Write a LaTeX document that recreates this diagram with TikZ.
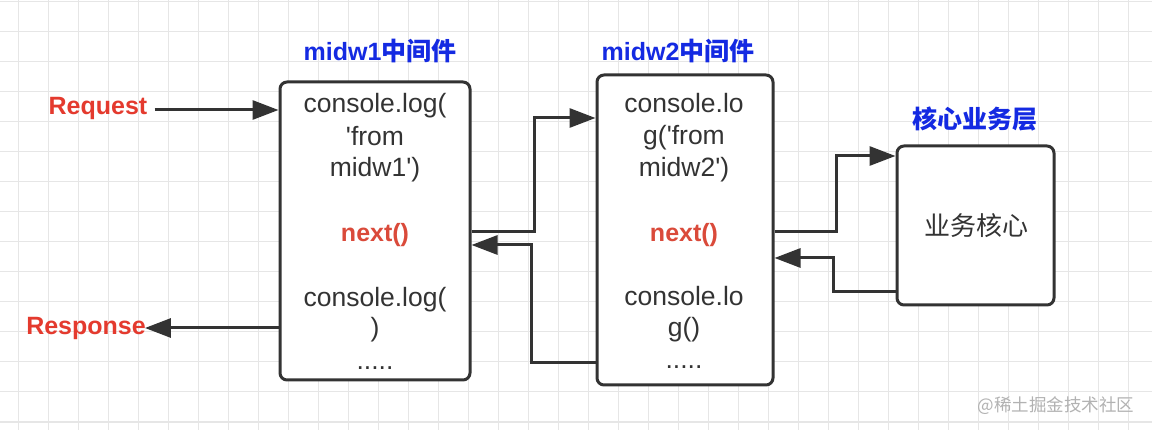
\documentclass[tikz,border=0pt]{standalone}
\usepackage{fontspec}
\setmainfont{Liberation Sans}
\newfontfamily\cjk{Noto Sans CJK SC}
\usetikzlibrary{arrows.meta}
\definecolor{ink}{RGB}{51,51,51}
\definecolor{tblue}{RGB}{20,42,226}
\definecolor{tred}{RGB}{228,58,46}
\definecolor{nred}{RGB}{218,74,58}
\definecolor{gridc}{RGB}{230,230,230}
\definecolor{wm}{RGB}{178,178,178}
\newcommand{\sq}{\textquotesingle}
\tikzset{
  box/.style={draw=ink, line width=3pt, rounded corners=7pt, fill=white, inner sep=0pt},
  conn/.style={draw=ink, line width=3pt, -{Triangle[length=26pt,width=19pt]}},
  code/.style={anchor=base, inner sep=0pt, text=ink, font=\fontsize{26.5}{30}\selectfont},
  nxt/.style={anchor=base, inner sep=0pt, text=nred, font=\fontsize{25}{30}\selectfont\bfseries},
  lbl/.style={anchor=base, inner sep=0pt, text=tred, font=\fontsize{25}{30}\selectfont\bfseries},
  ttl/.style={anchor=base, inner sep=0pt, text=tblue, font=\fontsize{25}{30}\selectfont\bfseries},
}
\begin{document}
\begin{tikzpicture}[x=1pt,y=-1pt]
\useasboundingbox (0,0) rectangle (1152,430);
\fill[white] (0,0) rectangle (1152,430);
% grid
\foreach \gx in {18,48,...,1150} \draw[gridc, line width=1pt] (\gx,0) -- (\gx,430);
\foreach \gy in {2,32,...,430} \draw[gridc, line width=1pt] (0,\gy) -- (1152,\gy);

% boxes
\node[box, minimum width=190pt, minimum height=298pt] (b1) at (375,231) {};
\node[box, minimum width=176pt, minimum height=310pt] (b2) at (685,230) {};
\node[box, minimum width=157pt, minimum height=159pt] (b3) at (975.5,225.5) {};

% titles
\node[ttl] (t1) at (380,61) {midw1{\cjk 中间件}};
\node[ttl] (t2) at (678,61) {midw2{\cjk 中间件}};
\node[ttl] (t3) at (975,129) {\cjk 核心业务层};

% box 1 text
\node[code] (a1) at (375,113) {console.log(};
\node[code] (a2) at (375,146) {\sq from};
\node[code] (a3) at (375,177) {midw1\sq)};
\node[nxt]  (a4) at (375,242) {next()};
\node[code] (a5) at (375,307) {console.log(};
\node[code] (a6) at (375,337) {)};
\node[code] (a7) at (375,370) {.....};

% box 2 text
\node[code] (c1) at (684,113) {console.lo};
\node[code] (c2) at (684,145) {g(\sq from};
\node[code] (c3) at (684,177) {midw2\sq)};
\node[nxt]  (c4) at (684,242) {next()};
\node[code] (c5) at (684,306) {console.lo};
\node[code] (c6) at (684,337) {g()};
\node[code] (c7) at (684,369) {.....};

% box 3 text
\node[code, font=\fontsize{26}{30}\selectfont\cjk] (d1) at (976,236) {业务核心};

% side labels
\node[lbl] (req) at (98,115) {Request};
\node[lbl] (resp) at (86,335) {Response};

% watermark
\node[anchor=base, inner sep=0pt, text=wm, font=\fontsize{17.5}{20}\selectfont\cjk] (wmk) at (1056,411) {@稀土掘金技术社区};

% connectors
\draw[conn] ([xshift=7pt,yshift=5pt]req.base east) -- ([yshift=5pt]req.base east -| b1.west);
\draw[conn] ([yshift=-97pt]b1.west) -- ([xshift=-1pt,yshift=7pt]resp.base east);
\draw[conn] ([yshift=-1pt]b1.east) -- ++(63,0) |- ([yshift=112pt]b2.west);
\draw[conn] ([yshift=-133pt]b2.west) -- ++(-64,0) |- ([yshift=-14pt]b1.east);
\draw[conn] ([yshift=-2pt]b2.east) -- ++(62,0) |- ([yshift=69.5pt]b3.west);
\draw[conn] ([yshift=-66.5pt]b3.west) -- ++(-62,0) |- ([yshift=-28pt]b2.east);
\end{tikzpicture}
\end{document}
